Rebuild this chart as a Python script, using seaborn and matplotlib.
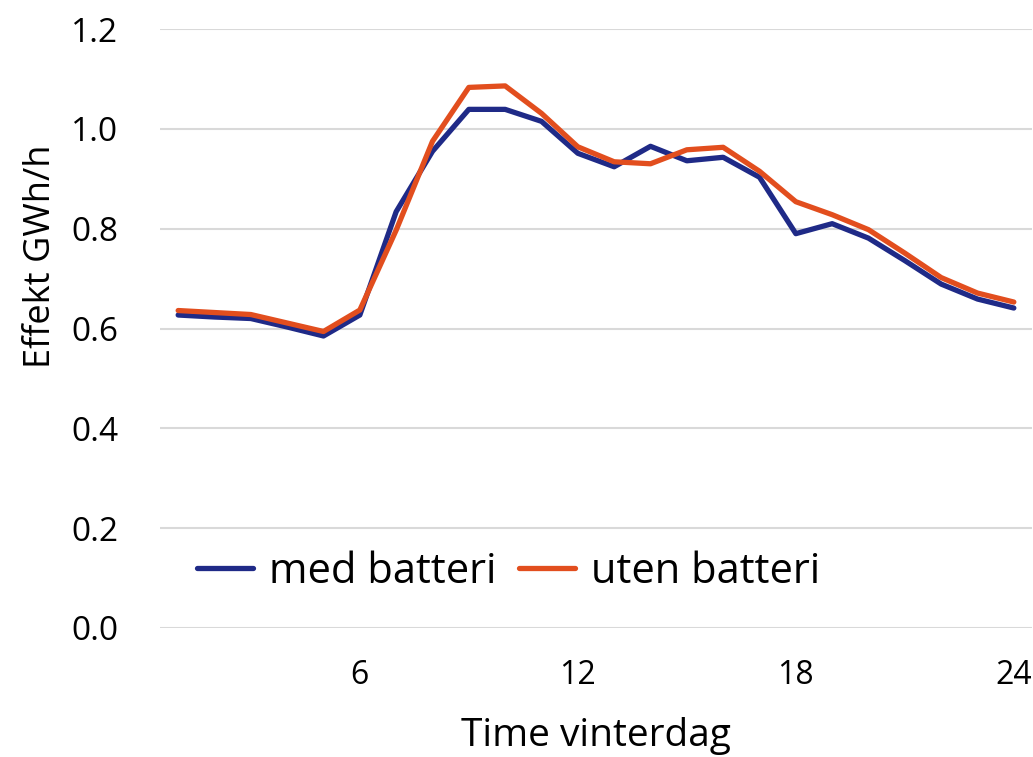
import pandas as pd
import numpy as np
import matplotlib
matplotlib.use("Agg")
import matplotlib.pyplot as plt
import seaborn as sns

# hours of the winter day
hours = list(range(1, 25))

# effect with battery (GWh/h)
med_batteri = [0.627, 0.623, 0.620, 0.603, 0.585, 0.627, 0.834, 0.955,
               1.039, 1.039, 1.015, 0.951, 0.924, 0.965, 0.936, 0.943,
               0.903, 0.790, 0.810, 0.781, 0.736, 0.689, 0.659, 0.641]

# effect without battery (GWh/h)
uten_batteri = [0.636, 0.632, 0.628, 0.611, 0.594, 0.637, 0.797, 0.975,
                1.083, 1.086, 1.031, 0.964, 0.934, 0.930, 0.958, 0.963,
                0.915, 0.854, 0.828, 0.798, 0.751, 0.702, 0.671, 0.653]

series_names = ['med batteri', 'uten batteri']
colors = ['#1F2A87', '#E24E1E']

df = pd.DataFrame({
    'Time': hours * 2,
    'Effekt': med_batteri + uten_batteri,
    'Serie': [series_names[0]] * 24 + [series_names[1]] * 24,
})

sns.set_theme(style='white')
plt.rcParams['font.family'] = ['Open Sans', 'DejaVu Sans']
plt.rcParams['text.color'] = 'black'
plt.rcParams['axes.labelcolor'] = 'black'
plt.rcParams['xtick.color'] = 'black'
plt.rcParams['ytick.color'] = 'black'

fig = plt.figure(figsize=(10.33, 7.57), dpi=100)
ax = fig.add_axes([160 / 1033, 1 - 628 / 757, 872 / 1033, 599 / 757])

sns.lineplot(data=df, x='Time', y='Effekt', hue='Serie',
             palette=colors, linewidth=3.8, ax=ax, legend=True)

ax.set_xlim(0.5, 24.5)
ax.set_ylim(0, 1.2)
ax.set_xticks([6, 12, 18, 24])
ax.set_yticks(np.arange(0, 1.21, 0.2))
ax.set_yticklabels([f'{v:.1f}' for v in np.arange(0, 1.21, 0.2)])
ax.tick_params(axis='y', labelsize=24, pad=30, length=0)
ax.tick_params(axis='x', labelsize=23, pad=22, length=0)
ax.yaxis.grid(True, color='#D9D9D9', linewidth=1.5)
ax.set_axisbelow(True)
for s in ax.spines.values():
    s.set_visible(False)

ax.set_xlabel('Time vinterdag', fontsize=28, labelpad=18)
ax.set_ylabel('Effekt GWh/h', fontsize=26)
ax.yaxis.set_label_coords(-0.116, 0.62)

handles, labels = ax.get_legend_handles_labels()
ax.legend(handles, labels, ncol=2, frameon=False, fontsize=30,
          loc='center left', bbox_to_anchor=(0.0424, 0.0935),
          borderaxespad=0, borderpad=0,
          handlelength=1.35, columnspacing=0.55, handletextpad=0.37)

plt.savefig('out.png', dpi=100)
